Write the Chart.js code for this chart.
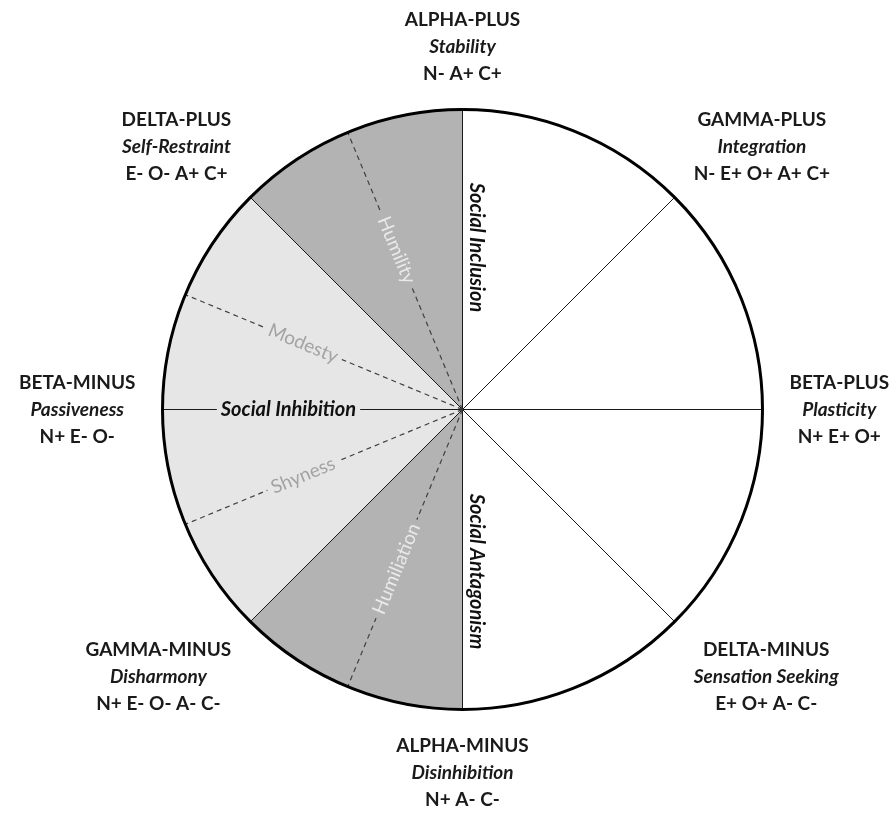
<!DOCTYPE html>
<html lang="en">
<head>
    <meta charset="UTF-8">
    <title>Circumplex of Personality Metatraits</title>
    <script src="https://cdn.jsdelivr.net/npm/chart.js"></script>
    <style>
        body {
            margin: 0;
            background: #ffffff;
        }
        .chart-container {
            position: relative;
            width: 889px;
            height: 814px;
        }
    </style>
</head>
<body>

    <div class="chart-container">
        <canvas id="circumplexChart"></canvas>
    </div>

    <script>
        // poles sit on the radial lines, clockwise from the top
        const poles = ["ALPHA-PLUS", "GAMMA-PLUS", "BETA-PLUS", "DELTA-MINUS", "ALPHA-MINUS", "GAMMA-MINUS", "BETA-MINUS", "DELTA-PLUS"];
        const traits = ["Stability", "Integration", "Plasticity", "Sensation Seeking", "Disinhibition", "Disharmony", "Passiveness", "Self-Restraint"];
        const codes = ["N- A+ C+", "N- E+ O+ A+ C+", "N+ E+ O+", "E+ O+ A- C-", "N+ A- C-", "N+ E- O- A- C-", "N+ E- O-", "E- O- A+ C+"];

        // sector i runs from pole i to pole i+1
        const sectorValues = [1, 1, 1, 1, 1, 1, 1, 1];
        const sectorColors = ["#ffffff", "#ffffff", "#ffffff", "#ffffff", "#b3b3b3", "#e6e6e6", "#e6e6e6", "#b3b3b3"];
        const facets = [null, null, null, null, "Humiliation", "Shyness", "Modesty", "Humility"];
        const facetColors = [null, null, null, null, "#e9e9e9", "#a3a3a3", "#a3a3a3", "#e9e9e9"];

        // themes written along the pole lines
        const themes = ["Social Inclusion", null, null, null, "Social Antagonism", null, "Social Inhibition", null];

        const FONT = "Lato, 'Open Sans', sans-serif";

        function textAngle(a) {
            let deg = a * 180 / Math.PI;
            deg = ((deg % 360) + 360) % 360;
            if (deg > 90.5 && deg <= 270.5) deg -= 180;
            return deg * Math.PI / 180;
        }

        const circumplexPlugin = {
            id: 'circumplex',
            afterDatasetsDraw(chart) {
                const ctx = chart.ctx;
                const arcs = chart.getDatasetMeta(0).data;
                const cx = arcs[0].x, cy = arcs[0].y, r = arcs[0].outerRadius;

                // dashed facet lines + facet labels
                arcs.forEach((arc, i) => {
                    if (!facets[i]) return;
                    const mid = (arc.startAngle + arc.endAngle) / 2;
                    ctx.save();
                    ctx.strokeStyle = '#404040';
                    ctx.lineWidth = 1.2;
                    ctx.setLineDash([5, 4]);
                    ctx.beginPath();
                    ctx.moveTo(cx, cy);
                    ctx.lineTo(cx + r * Math.cos(mid), cy + r * Math.sin(mid));
                    ctx.stroke();
                    ctx.restore();

                    const d = r * 0.575;
                    ctx.save();
                    ctx.translate(cx + d * Math.cos(mid), cy + d * Math.sin(mid));
                    ctx.rotate(textAngle(mid));
                    ctx.font = "19px " + FONT;
                    const w = ctx.measureText(facets[i]).width;
                    ctx.fillStyle = sectorColors[i];
                    ctx.fillRect(-w / 2 - 5, -10, w + 10, 20);
                    ctx.fillStyle = facetColors[i];
                    ctx.textAlign = 'center';
                    ctx.textBaseline = 'middle';
                    ctx.fillText(facets[i], 0, 0);
                    ctx.restore();
                });

                // theme labels on the pole lines
                arcs.forEach((arc, i) => {
                    if (!themes[i]) return;
                    const a = arc.startAngle;
                    const vertical = Math.abs(Math.cos(a)) < 0.01;
                    const d = r * (vertical ? 0.54 : 0.58);
                    ctx.save();
                    ctx.translate(cx + d * Math.cos(a), cy + d * Math.sin(a));
                    ctx.rotate(textAngle(a));
                    ctx.font = "italic bold 20px " + FONT;
                    ctx.textAlign = 'center';
                    ctx.textBaseline = 'middle';
                    const w = ctx.measureText(themes[i]).width;
                    let oy = 0;
                    if (vertical) {
                        oy = -14;
                    } else {
                        ctx.fillStyle = sectorColors[i];
                        ctx.fillRect(-w / 2 - 4, -11, w + 8, 22);
                    }
                    ctx.fillStyle = '#111111';
                    ctx.fillText(themes[i], 0, oy);
                    ctx.restore();
                });

                // outer ring
                ctx.save();
                ctx.strokeStyle = '#000000';
                ctx.lineWidth = 3;
                ctx.beginPath();
                ctx.arc(cx, cy, r, 0, Math.PI * 2);
                ctx.stroke();
                ctx.restore();

                // pole labels outside the circle
                const gap = 27, lh = 27;
                arcs.forEach((arc, i) => {
                    const a = arc.startAngle;
                    const ax = cx + (r + gap) * Math.cos(a);
                    const ay = cy + (r + gap) * Math.sin(a);
                    const c = Math.cos(a), s = Math.sin(a);
                    const m = Math.max(Math.abs(c), Math.abs(s));
                    const lines = [
                        ["bold 19px " + FONT, poles[i]],
                        ["italic bold 19px " + FONT, traits[i]],
                        ["bold 19px " + FONT, codes[i]]
                    ];
                    let w = 0;
                    lines.forEach(l => {
                        ctx.font = l[0];
                        w = Math.max(w, ctx.measureText(l[1]).width);
                    });
                    const h = lh * 2 + 18;
                    const bx = ax + (c / m) * w / 2;
                    const by = ay + (s / m) * h / 2 + (s < -0.1 && Math.abs(c) > 0.1 ? 5 : 0);
                    ctx.save();
                    ctx.fillStyle = '#1a1a1a';
                    ctx.textAlign = 'center';
                    ctx.textBaseline = 'middle';
                    lines.forEach((l, k) => {
                        ctx.font = l[0];
                        ctx.fillText(l[1], bx, by + (k - 1) * lh);
                    });
                    ctx.restore();
                });
            }
        };

        const ctx = document.getElementById('circumplexChart').getContext('2d');
        new Chart(ctx, {
            type: 'pie',
            data: {
                labels: poles,
                datasets: [{
                    data: sectorValues,
                    backgroundColor: sectorColors,
                    borderColor: '#1a1a1a',
                    borderWidth: 1
                }]
            },
            options: {
                responsive: true,
                maintainAspectRatio: false,
                animation: false,
                layout: {
                    padding: { left: 162, right: 126, top: 109, bottom: 104 }
                },
                plugins: {
                    legend: { display: false },
                    tooltip: { enabled: false }
                }
            },
            plugins: [circumplexPlugin]
        });
    </script>

</body>
</html>
